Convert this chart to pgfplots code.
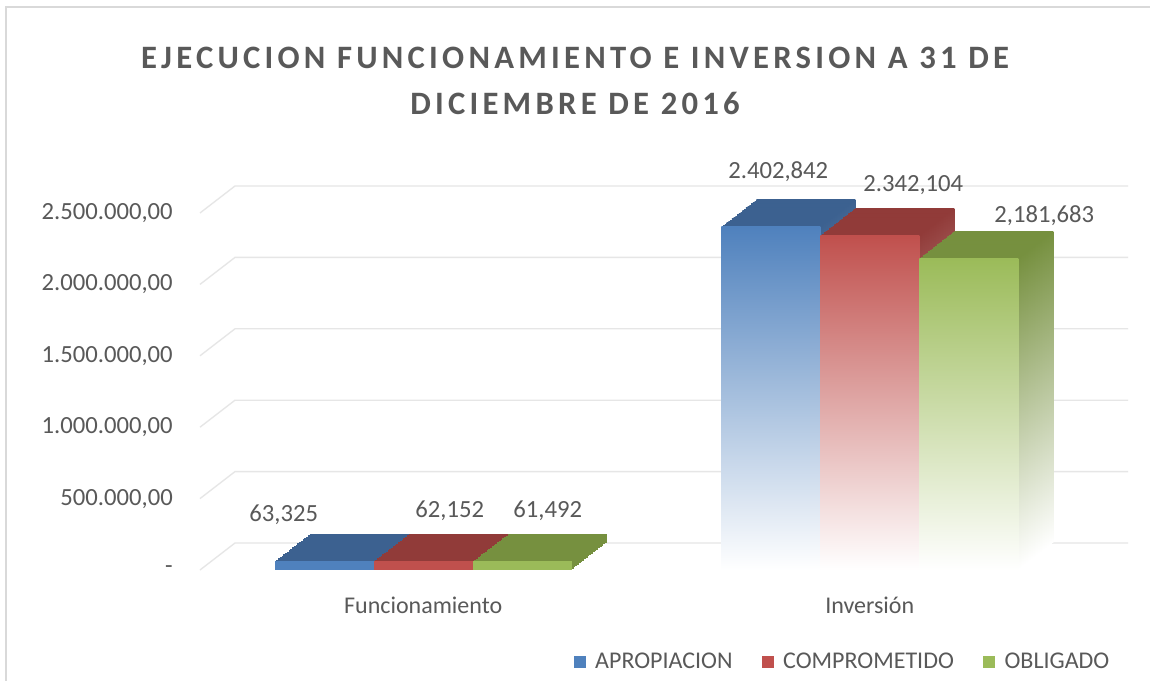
\documentclass[border=0pt]{standalone}
\usepackage{fontspec}
\setmainfont{Carlito}
\newfontfamily\titlefont{Carlito}[LetterSpace=13]
\usepackage{pgfplots}
\usepackage{pgfplotstable}
\pgfplotsset{compat=1.18}
\definecolor{txt}{HTML}{595959}
\definecolor{gridc}{HTML}{E6E6E6}
\definecolor{framec}{HTML}{D9D9D9}
\definecolor{bF}{HTML}{4F81BD}
\definecolor{bT}{HTML}{3C6190}
\definecolor{rF}{HTML}{C0504D}
\definecolor{rT}{HTML}{913B39}
\definecolor{gF}{HTML}{9BBB59}
\definecolor{gT}{HTML}{76903F}

% values, label text, label offset (px) from the top of the bar front
\pgfplotstableread{
x y lab dx dy
0 63325 63,325 -40.5 46
1 2402842 2.402,842 7.5 55
}\apro
\pgfplotstableread{
x y lab dx dy
0 62152 62,152 26.5 50
1 2342104 2.342,104 43.5 50.6
}\comp
\pgfplotstableread{
x y lab dx dy
0 61492 61,492 25.5 50
1 2181683 2,181,683 75.5 42.5
}\obli

\pgfplotsset{
  cat0/.style={restrict x to domain=-0.2:0.2},
  cat1/.style={restrict x to domain=0.8:1.2},
  fade/.style={top color=#1, middle color=#1, bottom color=white},
  solid/.style={fill=#1},
  barlabels/.style={
    point meta=explicit symbolic,
    visualization depends on={\thisrow{dx}\as\dx},
    visualization depends on={\thisrow{dy}\as\dy},
    nodes near coords,
    every node near coord/.append style={anchor=center, text=txt,
      font=\fontsize{18.5}{22}\selectfont,
      xshift=\dx*0.75pt, yshift=\dy*0.75pt}},
}

% one series in one category: 20 shifted copies give the depth, then the front
% #1 table, #2 bar shift, #3 front colour, #4 top colour, #5 category, #6 fill style
\newcommand{\bars}[6]{%
  \pgfplotsinvokeforeach{20,19,...,1}{%
    \addplot[ybar, forget plot, draw=none, bar shift=#2, #5, #6=#4,
      xshift=##1*1.3125pt, yshift=##1*1.0125pt]
      table[x=x,y=y]{#1};
  }%
  \addplot[ybar, forget plot, draw=none, bar shift=#2, #5, #6=#3, barlabels]
    table[x=x,y=y,meta=lab]{#1};
}

\begin{document}
\begin{tikzpicture}
\useasboundingbox (-150pt,-83.25pt) rectangle (712.5pt,427.5pt);
\fill[white] (-150pt,-83.25pt) rectangle (712.5pt,427.5pt);
\draw[framec, line width=1.5pt] (-145.5pt,-83.25pt) -- (-145.5pt,422.25pt) -- (712.5pt,422.25pt);

\begin{axis}[
  scale only axis,
  width=669.75pt, height=267.75pt,
  xmin=-0.5, xmax=1.5, ymin=0, ymax=2500000,
  clip=false,
  ybar, bar width=74.25pt,
  axis line style={draw=none},
  tick style={draw=none},
  scaled y ticks=false,
  xtick={0,1},
  xticklabels={Funcionamiento,Inversión},
  ytick={0,500000,1000000,1500000,2000000,2500000},
  yticklabels={{-\hspace{8pt}},{500.000,00},{1.000.000,00},{1.500.000,00},{2.000.000,00},{2.500.000,00}},
  /pgf/number format/assume math mode=true,
  xticklabel style={text=txt, font=\fontsize{18}{22}\selectfont,
    anchor=base, inner sep=0pt, yshift=-28.5pt},
  yticklabel style={text=txt, font=\fontsize{18.5}{22}\selectfont,
    anchor=east, inner sep=0pt, xshift=-20.25pt},
  legend image code/.code={\fill[#1, draw=none] (0pt,-4.5pt) rectangle (9pt,4.5pt);},
  legend columns=3,
  legend style={draw=none, fill=none, at={(0.72,-0.2577)}, anchor=center,
    font=\fontsize{18}{22}\selectfont, text=txt,
    /tikz/every odd column/.append style={column sep=5pt},
    /tikz/every even column/.append style={column sep=20pt}},
]
\pgfplotsinvokeforeach{0,500000,1000000,1500000,2000000,2500000}{
  \draw[gridc, line width=1pt] (axis cs:-0.5,#1) -- ++(26.25pt,20.25pt)
    -- ([shift={(26.25pt,20.25pt)}]axis cs:1.5,#1);
}
\bars{\apro}{-74.25pt}{bF}{bT}{cat0}{solid}
\bars{\comp}{0pt}{rF}{rT}{cat0}{solid}
\bars{\obli}{74.25pt}{gF}{gT}{cat0}{solid}
\bars{\apro}{-74.25pt}{bF}{bT}{cat1}{fade}
\bars{\comp}{0pt}{rF}{rT}{cat1}{fade}
\bars{\obli}{74.25pt}{gF}{gT}{cat1}{fade}

\addlegendimage{fill=bF}
\addlegendentry{APROPIACION}
\addlegendimage{fill=rF}
\addlegendentry{COMPROMETIDO}
\addlegendimage{fill=gF}
\addlegendentry{OBLIGADO}
\end{axis}

\node[anchor=base, text=txt, font=\titlefont\bfseries\fontsize{24.5}{30}\selectfont]
  at (281.25pt,375.75pt) {EJECUCION FUNCIONAMIENTO E INVERSION A 31 DE};
\node[anchor=base, text=txt, font=\titlefont\bfseries\fontsize{24.5}{30}\selectfont]
  at (281.25pt,341.25pt) {DICIEMBRE DE 2016};
\end{tikzpicture}
\end{document}
